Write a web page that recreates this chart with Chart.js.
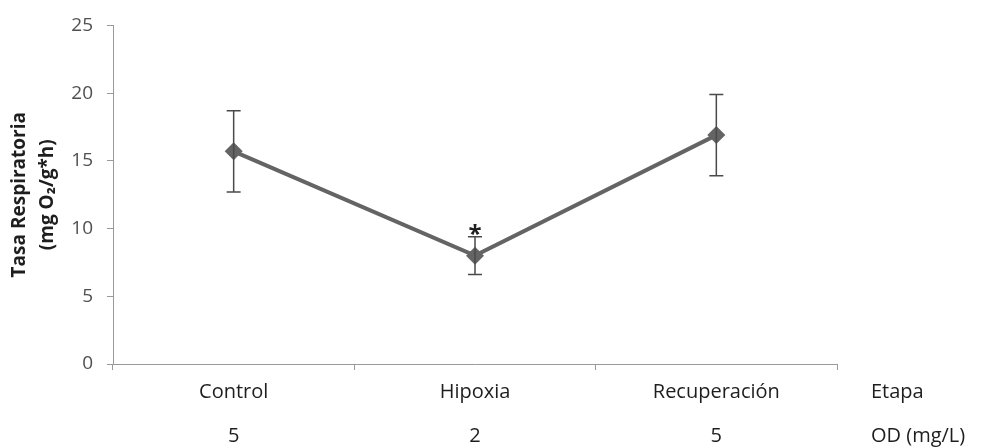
<!DOCTYPE html>
<html lang="es">
<head>
<meta charset="utf-8">
<title>Tasa respiratoria por etapa</title>
<script src="https://cdn.jsdelivr.net/npm/chart.js@4/dist/chart.umd.min.js"></script>
<style>
  html, body { margin: 0; padding: 0; background: #ffffff; }
  #wrap { width: 985px; height: 448px; }
</style>
</head>
<body>
<div id="wrap"><canvas id="chart" width="985" height="448"></canvas></div>
<script>
// Experimental stages and dissolved oxygen level for each one
const categories = ['Control', 'Hipoxia', 'Recuperación'];
const odLevels = [5, 2, 5];

// Respiratory rate (mg O2 / g*h): mean and error
const respiratoryRate = [15.7, 8.0, 16.9];
const rateError = [3.0, 1.4, 3.0];

// Significance marks shown above the error bars
const significance = ['', '*', ''];

// Y axis range
const yMin = 0;
const yMax = 25;
const yStep = 5;

// Row headers shown to the right of the x axis labels
const rowHeaders = ['Etapa', 'OD (mg/L)'];

const FONT = "'Open Sans', 'DejaVu Sans', sans-serif";
const LINE_COLOR = '#646464';
const ERR_COLOR = '#4a4a4a';
const AXIS_COLOR = '#9a9a9a';
const TEXT_COLOR = '#1e1e1e';
const LABEL_LINE = 44;

const xLabels = categories.map((c, i) => [c, String(odLevels[i])]);

// Draws vertical error bars with caps, plus significance marks
const errorBars = {
  id: 'errorBars',
  afterDatasetsDraw(chart) {
    const { ctx, scales: { x, y } } = chart;
    ctx.save();
    ctx.strokeStyle = ERR_COLOR;
    ctx.lineWidth = 1.5;
    const cap = 7;
    respiratoryRate.forEach((v, i) => {
      const px = x.getPixelForValue(i);
      const top = y.getPixelForValue(v + rateError[i]);
      const bot = y.getPixelForValue(v - rateError[i]);
      ctx.beginPath();
      ctx.moveTo(px, top); ctx.lineTo(px, bot);
      ctx.moveTo(px - cap, top); ctx.lineTo(px + cap, top);
      ctx.moveTo(px - cap, bot); ctx.lineTo(px + cap, bot);
      ctx.stroke();
      if (significance[i]) {
        ctx.fillStyle = TEXT_COLOR;
        ctx.font = 'bold 24px ' + FONT;
        ctx.textAlign = 'center';
        ctx.textBaseline = 'alphabetic';
        ctx.fillText(significance[i], px, top + 5);
      }
    });
    ctx.restore();
  }
};

// Row headers aligned with the two lines of category labels
const rowTitles = {
  id: 'rowTitles',
  afterDraw(chart) {
    const { ctx, chartArea, scales: { x } } = chart;
    const firstLine = x.top + x.options.grid.tickLength + x.options.ticks.padding + LABEL_LINE / 2;
    ctx.save();
    ctx.fillStyle = TEXT_COLOR;
    ctx.font = '20px ' + FONT;
    ctx.textAlign = 'left';
    ctx.textBaseline = 'middle';
    rowHeaders.forEach((t, i) => {
      ctx.fillText(t, chartArea.right + 34, firstLine + i * LABEL_LINE);
    });
    ctx.restore();
  }
};

new Chart(document.getElementById('chart'), {
  type: 'line',
  data: {
    labels: xLabels,
    datasets: [{
      data: respiratoryRate,
      borderColor: LINE_COLOR,
      borderWidth: 4,
      backgroundColor: LINE_COLOR,
      pointStyle: 'rectRot',
      pointRadius: 9,
      pointBorderWidth: 0,
      pointBackgroundColor: LINE_COLOR,
      tension: 0,
      fill: false
    }]
  },
  options: {
    responsive: false,
    animation: false,
    layout: { padding: { top: 24, right: 148, bottom: 0, left: 0 } },
    plugins: {
      legend: { display: false },
      tooltip: { enabled: false }
    },
    scales: {
      x: {
        offset: true,
        grid: {
          offset: true,
          drawOnChartArea: false,
          drawTicks: true,
          tickLength: 6,
          color: AXIS_COLOR
        },
        border: { color: AXIS_COLOR, width: 1 },
        ticks: {
          padding: 0,
          color: TEXT_COLOR,
          maxRotation: 0,
          font: { family: FONT, size: 20, lineHeight: LABEL_LINE + 'px' }
        },
        afterFit(scale) { scale.height = 84; }
      },
      y: {
        min: yMin,
        max: yMax,
        ticks: {
          stepSize: yStep,
          padding: 14,
          color: '#505050',
          font: { family: FONT, size: 19 }
        },
        grid: {
          drawOnChartArea: false,
          drawTicks: true,
          tickLength: 6,
          color: AXIS_COLOR
        },
        border: { color: AXIS_COLOR, width: 1 },
        title: {
          display: true,
          text: ['Tasa Respiratoria', '(mg O\u2082/g*h)'],
          color: TEXT_COLOR,
          font: { family: FONT, size: 19, weight: 'bold', lineHeight: '28px' },
          padding: { top: 6, bottom: 0 }
        },
        afterFit(scale) { scale.width = 113; }
      }
    }
  },
  plugins: [errorBars, rowTitles]
});
</script>
</body>
</html>
